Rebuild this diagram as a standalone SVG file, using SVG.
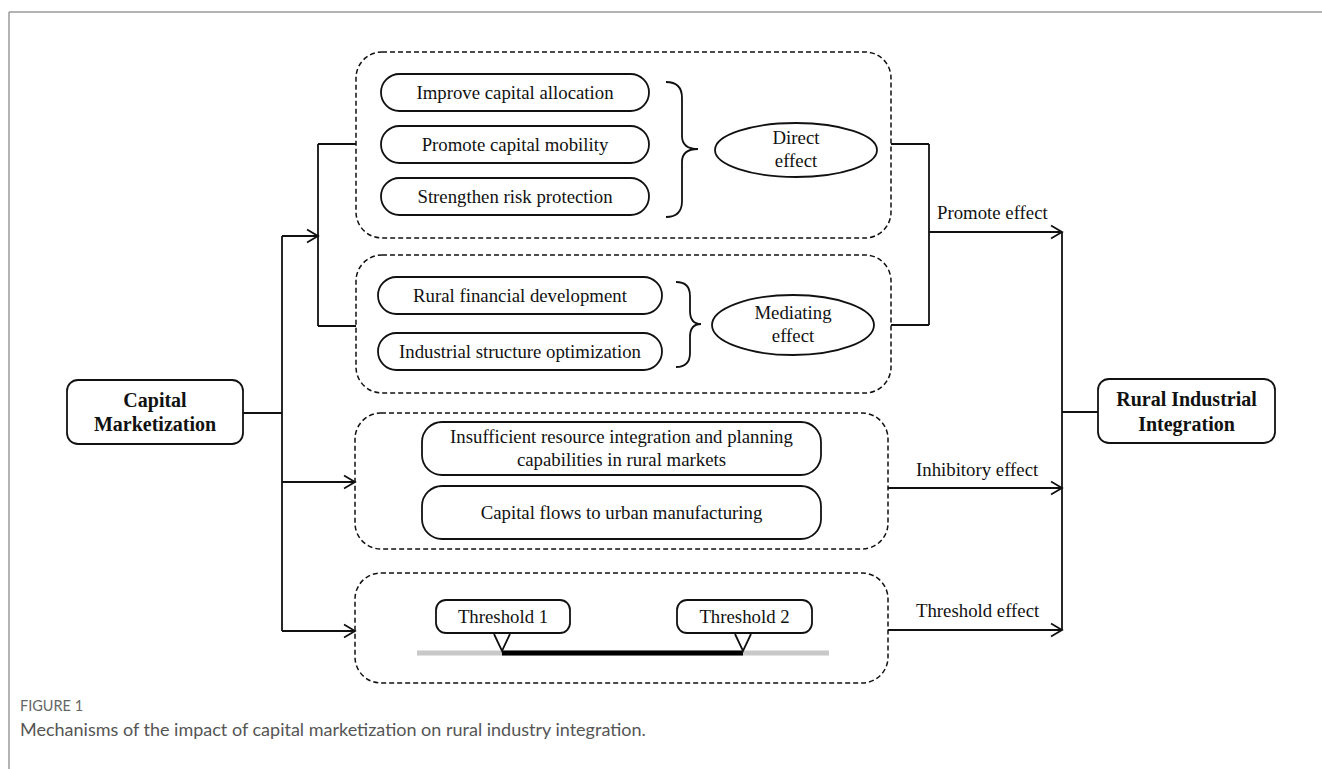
<svg xmlns="http://www.w3.org/2000/svg" width="1322" height="769" viewBox="0 0 1322 769">
<defs>
<style>
.frame{stroke:#9a9a9a;stroke-width:1.5;fill:none}
.dash{fill:none;stroke:#111;stroke-width:1.5;stroke-dasharray:5,3}
.box{fill:#fff;stroke:#111;stroke-width:1.8}
.ln{fill:none;stroke:#111;stroke-width:1.8}
.t{font-family:"Liberation Serif","Times New Roman",serif;font-size:18.8px;fill:#111;text-anchor:middle}
.tl{font-family:"Liberation Serif","Times New Roman",serif;font-size:18.8px;fill:#111}
.tb{font-family:"Liberation Serif","Times New Roman",serif;font-size:20px;font-weight:bold;fill:#111;text-anchor:middle}
.cap1{font-family:Lato,"Open Sans",sans-serif;font-size:14.5px;fill:#666}
.cap2{font-family:Lato,"Open Sans",sans-serif;font-size:18px;fill:#555}
</style>
<marker id="arr" markerUnits="userSpaceOnUse" markerWidth="16" markerHeight="16" viewBox="0 0 16 16" refX="14" refY="8" orient="auto">
<path d="M3,1.5 L14,8 L3,14.5" fill="none" stroke="#111" stroke-width="1.8"/>
</marker>
</defs>

<g id="frame">
<line class="frame" x1="9" y1="12" x2="1322" y2="12"/>
<line class="frame" x1="9" y1="12" x2="9" y2="769"/>
</g>

<g id="connectors">
<line class="ln" x1="243" y1="413" x2="282" y2="413"/>
<line class="ln" x1="282" y1="236" x2="282" y2="631"/>
<line class="ln" x1="282" y1="236" x2="318" y2="236" marker-end="url(#arr)"/>
<line class="ln" x1="318" y1="144" x2="318" y2="326"/>
<line class="ln" x1="318" y1="144" x2="356" y2="144"/>
<line class="ln" x1="318" y1="326" x2="356" y2="326"/>
<line class="ln" x1="282" y1="482" x2="355" y2="482" marker-end="url(#arr)"/>
<line class="ln" x1="282" y1="631" x2="355" y2="631" marker-end="url(#arr)"/>
<line class="ln" x1="891" y1="144" x2="929" y2="144"/>
<line class="ln" x1="891" y1="325" x2="929" y2="325"/>
<line class="ln" x1="929" y1="144" x2="929" y2="325"/>
<line class="ln" x1="929" y1="232" x2="1062" y2="232" marker-end="url(#arr)"/>
<line class="ln" x1="888" y1="488" x2="1062" y2="488" marker-end="url(#arr)"/>
<line class="ln" x1="888" y1="630" x2="1062" y2="630" marker-end="url(#arr)"/>
<line class="ln" x1="1062" y1="232" x2="1062" y2="630"/>
<line class="ln" x1="1062" y1="412" x2="1098" y2="412"/>
<text class="tl" x="937" y="219">Promote effect</text>
<text class="tl" x="916" y="476">Inhibitory effect</text>
<text class="tl" x="916" y="617">Threshold effect</text>
</g>

<g id="capital-marketization">
<rect class="box" x="67" y="380" width="176" height="64" rx="11"/>
<text class="tb" x="155" y="407">Capital</text>
<text class="tb" x="155" y="431">Marketization</text>
</g>

<g id="rural-industrial-integration">
<rect class="box" x="1098" y="379" width="177" height="64" rx="11"/>
<text class="tb" x="1186.5" y="406">Rural Industrial</text>
<text class="tb" x="1186.5" y="431">Integration</text>
</g>

<g id="direct-group">
<rect class="dash" x="356" y="52" width="535" height="186" rx="26"/>
<rect class="box" x="381" y="74" width="268" height="37" rx="18.5"/>
<text class="t" x="515" y="99">Improve capital allocation</text>
<rect class="box" x="381" y="126" width="268" height="37" rx="18.5"/>
<text class="t" x="515" y="151">Promote capital mobility</text>
<rect class="box" x="381" y="178" width="268" height="37" rx="18.5"/>
<text class="t" x="515" y="203">Strengthen risk protection</text>
<path class="ln" d="M666,82 Q682,82 682,98 L682,136 Q682,149 698,149 Q682,149 682,162 L682,201 Q682,217 666,217"/>
<ellipse class="box" cx="796" cy="150" rx="81" ry="27"/>
<text class="t" x="796" y="144">Direct</text>
<text class="t" x="796" y="167">effect</text>
</g>

<g id="mediating-group">
<rect class="dash" x="356" y="255" width="535" height="138" rx="26"/>
<rect class="box" x="378" y="277" width="284" height="37" rx="18.5"/>
<text class="t" x="520" y="302">Rural financial development</text>
<rect class="box" x="378" y="333" width="284" height="37" rx="18.5"/>
<text class="t" x="520" y="358">Industrial structure optimization</text>
<path class="ln" d="M676,282 Q690,282 690,296 L690,311 Q690,324 701,324 Q690,324 690,337 L690,353 Q690,367 676,367"/>
<ellipse class="box" cx="793" cy="325" rx="81" ry="30"/>
<text class="t" x="793" y="319">Mediating</text>
<text class="t" x="793" y="342">effect</text>
</g>

<g id="inhibitory-group">
<rect class="dash" x="355" y="413" width="533" height="136" rx="26"/>
<rect class="box" x="422" y="422" width="399" height="53" rx="20"/>
<text class="t" x="621.5" y="443">Insufficient resource integration and planning</text>
<text class="t" x="621.5" y="466">capabilities in rural markets</text>
<rect class="box" x="422" y="486" width="399" height="53" rx="20"/>
<text class="t" x="621.5" y="519">Capital flows to urban manufacturing</text>
</g>

<g id="threshold-group">
<rect class="dash" x="355" y="573" width="533" height="110" rx="26"/>
<line x1="417" y1="653" x2="829" y2="653" stroke="#c8c8c8" stroke-width="5"/>
<line x1="502" y1="653" x2="743" y2="653" stroke="#000" stroke-width="5"/>
<rect class="box" x="436" y="600" width="134" height="33" rx="10"/>
<text class="t" x="503" y="623">Threshold 1</text>
<polyline class="ln" points="494,634 502,651 510,634"/>
<rect class="box" x="677" y="600" width="135" height="33" rx="10"/>
<text class="t" x="744.5" y="623">Threshold 2</text>
<polyline class="ln" points="735,634 743,651 751,634"/>
</g>

<g id="caption">
<text class="cap1" x="20" y="711">FIGURE 1</text>
<text class="cap2" x="20" y="736">Mechanisms of the impact of capital marketization on rural industry integration.</text>
</g>
</svg>
